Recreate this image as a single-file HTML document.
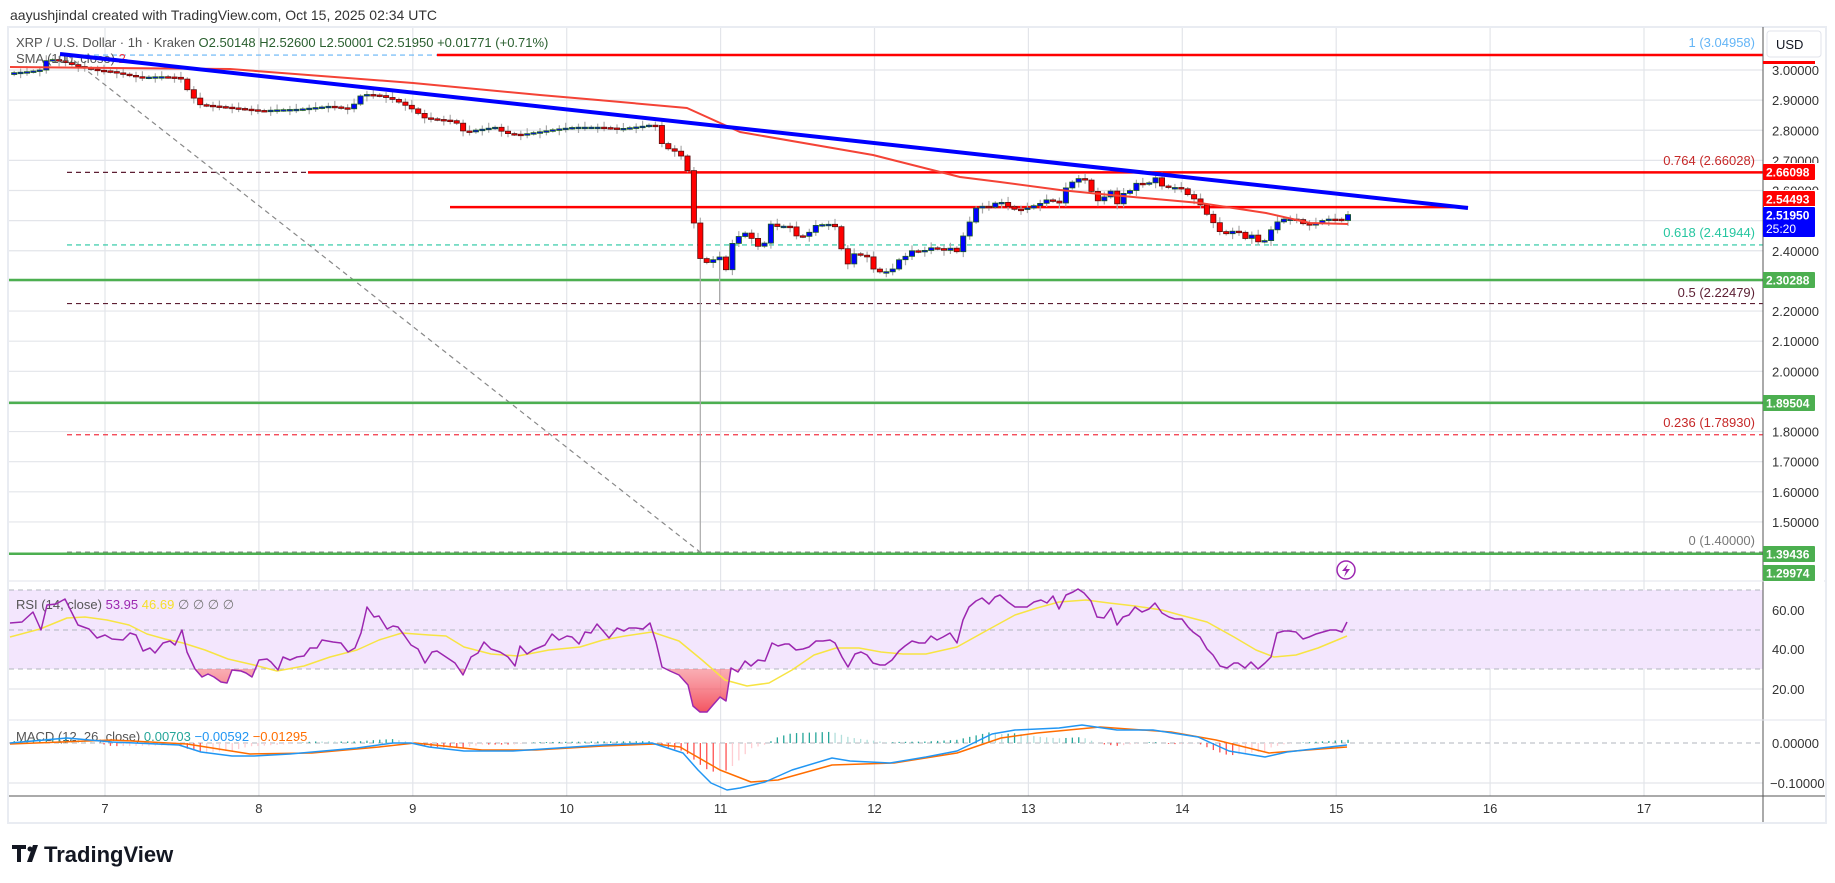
<!DOCTYPE html>
<html><head><meta charset="utf-8"><style>
html,body{margin:0;padding:0;background:#fff;}
svg{display:block;font-family:"Liberation Sans",sans-serif;}
</style></head><body>
<svg id="s" width="1835" height="883" viewBox="0 0 1835 883" xmlns="http://www.w3.org/2000/svg">
<defs>
<linearGradient id="os" x1="0" y1="0" x2="0" y2="1"><stop offset="0" stop-color="#ffffff" stop-opacity="0.2"/><stop offset="1" stop-color="#f23645" stop-opacity="0.85"/></linearGradient>
<clipPath id="below30"><rect x="0" y="669" width="1763" height="60"/></clipPath>
</defs>
<rect x="0" y="0" width="1835" height="883" fill="#fff"/>
<text x="10" y="20" font-size="14" fill="#333">aayushjindal created with TradingView.com, Oct 15, 2025 02:34 UTC</text>
<rect x="8" y="27" width="1818" height="796" fill="none" stroke="#e9ecf2" stroke-width="2"/>
<g id="grid"></g>
<rect x="9" y="590" width="1754" height="79" fill="#f3e6fd"/>
<g id="g2"></g>
<g id="lines"></g>
<g id="cand"></g>
<line x1="1763" y1="27" x2="1763" y2="822" stroke="#555" stroke-width="1"/>
<line x1="9" y1="796" x2="1825" y2="796" stroke="#555" stroke-width="1"/>
<line x1="9" y1="581" x2="1825" y2="581" stroke="#e0e3eb" stroke-width="1"/>
<line x1="9" y1="720" x2="1825" y2="720" stroke="#e0e3eb" stroke-width="1"/>
<g id="axis" font-size="13" fill="#333"></g>
<text x="16" y="47" font-size="13" fill="#555">XRP / U.S. Dollar · 1h · Kraken <tspan fill="#2a5f2f">O2.50148 H2.52600 L2.50001 C2.51950 +0.01771 (+0.71%)</tspan></text>
<text x="16" y="63" font-size="13" fill="#555">SMA (100, close) <tspan fill="#f23645">2</tspan></text>
<text x="16" y="609" font-size="13" fill="#555">RSI (14, close) <tspan fill="#9c27b0">53.95</tspan> <tspan fill="#f5e02a">46.69</tspan> <tspan fill="#777">∅ ∅ ∅ ∅</tspan></text>
<text x="16" y="741" font-size="13" fill="#555">MACD (12, 26, close) <tspan fill="#26a69a">0.00703</tspan> <tspan fill="#2196f3">−0.00592</tspan> <tspan fill="#ff6d00">−0.01295</tspan></text>
<g font-size="13" text-anchor="end">
<text x="1755" y="47" fill="#64b5f6">1 (3.04958)</text>
<text x="1755" y="165" fill="#c62828">0.764 (2.66028)</text>
<text x="1755" y="237" fill="#26c6a0">0.618 (2.41944)</text>
<text x="1755" y="297" fill="#5d1f33">0.5 (2.22479)</text>
<text x="1755" y="427" fill="#c62828">0.236 (1.78930)</text>
<text x="1755" y="545" fill="#777">0 (1.40000)</text>
</g>
<rect x="1767" y="31" width="54" height="26" rx="3" fill="#fff" stroke="#e0e3eb"/>
<text x="1776" y="49" font-size="13" fill="#131722">USD</text>
<rect x="1763" y="61" width="52" height="3" fill="#ff0000"/>
<g id="badges" font-size="12" font-weight="bold" fill="#fff"></g>
<circle cx="1346" cy="570" r="9" fill="#fff" stroke="#9c27b0" stroke-width="1.5"/>
<path d="M1348 564 L1342 571 L1346 571 L1344 577 L1350 569 L1346 569 Z" fill="#9c27b0"/>
<g font-size="13" fill="#333" text-anchor="middle" id="tl"></g>
<g>
<path d="M12 845 h14 v4 h-5 v13 h-4 v-13 h-5 z" fill="#131722"/>
<circle cx="30" cy="849" r="2.5" fill="#131722"/>
<path d="M33 845 h5 l-6 17 h-5 z" fill="#131722"/>
<text x="44" y="862" font-size="22" font-weight="bold" fill="#131722">TradingView</text>
</g>
</svg>
<script>
var NS="http://www.w3.org/2000/svg";
function el(p,t,a){var e=document.createElementNS(NS,t);for(var k in a)e.setAttribute(k,a[k]);p.appendChild(e);return e;}
function $(i){return document.getElementById(i);}
function py(p){return 70+(3-p)*301.3;}
var grid=$("grid"),g2=$("g2"),L=$("lines"),C=$("cand"),AX=$("axis"),B=$("badges"),TL=$("tl");
for(var d=7;d<=17;d++){var x=105+(d-7)*153.9;el(grid,"line",{x1:x,y1:28,x2:x,y2:796,stroke:"#e3e5ea","stroke-width":1.2});
 var t=el(TL,"text",{x:x,y:813});t.textContent=d;}
for(var i=0;i<=15;i++){var p=3-i*0.1;var y=py(p);el(grid,"line",{x1:9,y1:y,x2:1763,y2:y,stroke:"#e3e5ea","stroke-width":1.2});
 var tx=el(AX,"text",{x:1772,y:y+5});tx.textContent=p.toFixed(5);}
[[60,610],[40,649],[20,689]].forEach(function(a){el(grid,"line",{x1:9,y1:a[1],x2:1763,y2:a[1],stroke:"#e3e5ea","stroke-width":1.2});var t=el(AX,"text",{x:1772,y:a[1]+5});t.textContent=a[0].toFixed(2);});
el(grid,"line",{x1:9,y1:783,x2:1763,y2:783,stroke:"#e3e5ea","stroke-width":1.2});
var t1=el(AX,"text",{x:1772,y:748});t1.textContent="0.00000";var t2=el(AX,"text",{x:1770,y:788});t2.textContent="−0.10000";
[590,630,669].forEach(function(y){el(g2,"line",{x1:9,y1:y,x2:1763,y2:y,stroke:"#b2b5be","stroke-dasharray":"5,4"});});
el(g2,"line",{x1:9,y1:743,x2:1763,y2:743,stroke:"#b2b5be","stroke-dasharray":"5,4"});
function hl(x1,x2,p,c,w,dash){var a={x1:x1,y1:py(p),x2:x2,y2:py(p),stroke:c,"stroke-width":w};if(dash)a["stroke-dasharray"]=dash;el(L,"line",a);}
hl(67,437,3.04958,"#64b5f6",1.2,"5,4");
hl(67,1763,2.66028,"#5d1f33",1.2,"5,4");
hl(67,1763,2.41944,"#26c6a0",1.2,"5,4");
hl(67,1763,2.22479,"#5d1f33",1.2,"5,4");
hl(67,1763,1.7893,"#f23645",1.2,"5,4");
hl(67,1763,1.40,"#888",1.2,"5,4");
el(L,"line",{x1:67,y1:55,x2:700,y2:552,stroke:"#888","stroke-width":1.2,"stroke-dasharray":"5,4"});
hl(437,1763,3.04958,"#ff0000",2.5);
hl(308,1763,2.66028,"#ff0000",2.5);
hl(450,1468,2.54493,"#ff0000",2.5);
hl(9,1763,2.30288,"#4caf50",2.5);
hl(9,1763,1.89504,"#4caf50",2.5);
hl(9,1763,1.39436,"#4caf50",2.5);
var K=[[10,2.99],[30,2.995],[40,3.0],[45,3.03],[52,3.035],[60,3.03],[70,3.02],[80,3.01],[95,3.0],[110,2.995],[125,2.985],[140,2.975],[160,2.978],[180,2.975],[190,2.92],[200,2.885],[215,2.88],[230,2.875],[260,2.865],[280,2.868],[300,2.87],[330,2.88],[350,2.87],[362,2.92],[380,2.915],[395,2.9],[410,2.875],[425,2.84],[440,2.835],[455,2.83],[465,2.79],[475,2.80],[495,2.81],[505,2.79],[520,2.785],[540,2.795],[560,2.805],[575,2.81],[600,2.81],[620,2.805],[640,2.812],[655,2.82],[663,2.745],[675,2.73],[681,2.715],[687,2.68],[694,2.49],[700,2.375],[706,2.36],[713,2.37],[720,2.38],[727,2.33],[733,2.435],[740,2.45],[746,2.46],[752,2.44],[758,2.415],[764,2.42],[770,2.49],[776,2.48],[782,2.482],[790,2.48],[795,2.45],[803,2.448],[809,2.46],[816,2.485],[822,2.487],[829,2.488],[835,2.48],[841,2.41],[848,2.355],[854,2.39],[861,2.385],[867,2.38],[873,2.34],[880,2.33],[886,2.33],[893,2.34],[899,2.37],[905,2.38],[912,2.40],[918,2.398],[924,2.40],[931,2.41],[937,2.408],[943,2.40],[950,2.41],[956,2.39],[962,2.44],[969,2.49],[975,2.54],[981,2.55],[987,2.54],[993,2.555],[1000,2.565],[1006,2.55],[1012,2.54],[1018,2.535],[1025,2.54],[1031,2.545],[1037,2.555],[1044,2.56],[1050,2.58],[1056,2.55],[1060,2.56],[1066,2.61],[1073,2.63],[1079,2.64],[1085,2.635],[1091,2.60],[1097,2.565],[1103,2.57],[1109,2.61],[1117,2.555],[1123,2.59],[1129,2.595],[1135,2.625],[1141,2.62],[1149,2.625],[1155,2.645],[1162,2.615],[1168,2.61],[1174,2.61],[1180,2.61],[1186,2.59],[1193,2.575],[1199,2.56],[1206,2.525],[1212,2.50],[1219,2.465],[1225,2.455],[1232,2.465],[1238,2.465],[1245,2.44],[1251,2.455],[1258,2.43],[1264,2.43],[1270,2.465],[1277,2.495],[1283,2.505],[1290,2.505],[1296,2.505],[1303,2.49],[1309,2.485],[1315,2.49],[1322,2.5],[1328,2.505],[1335,2.505],[1342,2.5],[1348,2.52]];
function interp(A,x){if(x<=A[0][0])return A[0][1];for(var i=1;i<A.length;i++){if(x<=A[i][0]){var a=A[i-1],b=A[i];return a[1]+(b[1]-a[1])*(x-a[0])/(b[0]-a[0]);}}return A[A.length-1][1];}
var step=153.9/24,prev=2.985,n=0;
for(var x=1348;x>=10;x-=step)n++;
var xs=[];for(var k=n-1;k>=0;k--)xs.push(1348-k*step);
var wk="";
xs.forEach(function(x,i){var c=interp(K,x),o=prev;prev=c;var hi=Math.max(o,c)+0.006+0.006*((i*7)%3),lo=Math.min(o,c)-0.006-0.006*((i*5)%3);
 if(Math.abs(x-700)<3.3)lo=1.40;if(Math.abs(x-719)<3.3)lo=2.22;
 wk+="M"+x.toFixed(1)+" "+py(hi).toFixed(1)+"V"+py(lo).toFixed(1);
 var up=c>=o,y1=py(Math.max(o,c)),y2=py(Math.min(o,c));if(y2-y1<1.5){y2=y1+1.5;}
 el(C,"rect",{x:(x-2.6).toFixed(1),y:y1.toFixed(1),width:5.2,height:(y2-y1).toFixed(1),fill:up?"#0000ff":"#ff0000",stroke:up?"#1b5e20":"#5d1010","stroke-width":0.8});
});
var w=el(C,"path",{d:wk,stroke:"#aaa","stroke-width":1.2,fill:"none"});C.insertBefore(w,C.firstChild);
function poly(par,pts,c,wd){el(par,"polyline",{points:pts.map(function(p){return p[0]+","+p[1]}).join(" "),fill:"none",stroke:c,"stroke-width":wd,"stroke-linejoin":"round"});}
poly($("s"),[[10,67],[230,69],[413,83],[540,95],[598,100],[687,108],[740,132],[873,155],[960,177],[1000,182],[1060,190],[1100,194],[1200,203],[1266,213],[1310,223],[1348,224]],"#f44336",2);
el($("s"),"line",{x1:60,y1:54,x2:1468,y2:208,stroke:"#0000ff","stroke-width":4});
var R=[[10,623],[22,622],[33,612],[41,630],[47,605],[56,604],[65,599],[78,625],[89,629],[97,638],[105,635],[112,639],[123,640],[130,633],[136,635],[143,651],[150,648],[155,653],[163,643],[170,641],[175,645],[182,630],[187,652],[195,669],[202,677],[208,674],[214,677],[221,682],[227,683],[232,670],[241,671],[246,673],[252,677],[259,660],[267,659],[271,662],[278,670],[283,657],[290,660],[297,657],[304,656],[310,648],[317,648],[322,640],[333,642],[341,643],[348,652],[355,648],[361,633],[367,607],[374,617],[379,616],[387,629],[393,626],[398,627],[404,635],[411,645],[418,649],[425,663],[432,652],[437,651],[446,657],[455,663],[463,675],[471,657],[478,653],[484,642],[491,649],[500,652],[508,657],[515,666],[520,646],[527,654],[533,650],[545,645],[552,634],[559,640],[567,636],[572,637],[579,644],[585,632],[591,633],[597,624],[604,632],[609,638],[617,628],[624,631],[629,628],[636,628],[643,629],[650,623],[656,642],[662,667],[670,671],[679,675],[688,685],[693,706],[700,712],[707,712],[713,705],[720,697],[726,701],[731,668],[738,672],[745,661],[751,666],[758,660],[765,661],[772,643],[778,646],[785,644],[789,644],[796,650],[803,649],[809,647],[816,641],[823,641],[830,640],[835,643],[842,657],[848,667],[855,654],[861,652],[867,655],[873,663],[880,665],[885,665],[892,660],[899,651],[905,646],[912,641],[919,643],[925,643],[931,636],[937,640],[943,637],[950,633],[957,643],[963,620],[969,607],[976,601],[982,598],[989,604],[995,597],[1000,595],[1008,602],[1015,607],[1021,607],[1027,607],[1034,602],[1041,600],[1047,603],[1053,596],[1059,609],[1066,595],[1073,592],[1078,589],[1084,593],[1091,601],[1097,617],[1104,618],[1111,608],[1117,625],[1123,617],[1129,615],[1135,607],[1142,612],[1149,609],[1155,603],[1162,613],[1169,617],[1175,619],[1182,619],[1188,627],[1193,632],[1200,637],[1207,649],[1213,655],[1220,666],[1227,668],[1234,663],[1238,663],[1245,668],[1251,662],[1258,669],[1265,663],[1271,657],[1277,633],[1284,631],[1289,631],[1296,632],[1303,639],[1309,637],[1316,634],[1323,632],[1330,630],[1336,630],[1342,632],[1347,622]];
var fillPts=R.map(function(p){return p[0]+","+p[1]}).join(" ")+" 1347,669 10,669";
el($("s"),"polygon",{points:fillPts,fill:"url(#os)","clip-path":"url(#below30)"});
var Y=[[10,637],[40,629],[67,618],[85,617],[107,620],[129,625],[147,634],[165,639],[183,643],[205,650],[228,659],[254,665],[277,671],[304,666],[330,657],[357,650],[379,640],[402,633],[429,635],[446,636],[464,647],[491,654],[518,656],[549,650],[580,647],[603,640],[625,636],[652,632],[679,641],[702,660],[725,680],[747,686],[769,683],[792,670],[814,655],[836,648],[859,648],[881,652],[903,654],[926,654],[957,647],[984,632],[1015,615],[1037,608],[1059,602],[1086,600],[1109,603],[1135,606],[1162,610],[1180,615],[1207,622],[1234,637],[1256,650],[1274,657],[1296,655],[1318,648],[1347,636]];
poly($("s"),Y,"#f7e443",1.5);
poly($("s"),R,"#9c27b0",1.5);
var M=[[10,743],[67,738],[112,742],[179,745],[201,752],[232,756],[254,756],[290,754],[335,750],[357,748],[393,743],[411,743],[429,747],[464,751],[513,751],[558,748],[603,745],[652,743],[683,753],[698,770],[711,783],[727,790],[740,788],[765,782],[792,770],[832,758],[850,761],[890,763],[926,757],[957,751],[992,734],[1015,730],[1059,728],[1082,725],[1117,730],[1153,730],[1198,737],[1229,751],[1265,757],[1287,752],[1347,745]];
var S=[[10,744],[112,740],[187,744],[250,754],[312,753],[379,747],[415,743],[482,750],[536,750],[603,746],[656,744],[680,747],[720,770],[751,782],[778,780],[832,765],[894,763],[957,753],[1001,738],[1037,733],[1100,727],[1171,732],[1216,740],[1269,753],[1347,747]];
var ph=0;xs.forEach(function(x){var h=(interp(S,x)-interp(M,x))*1.6;var inc=Math.abs(h)>=Math.abs(ph);
 var col=h>=0?(inc?"#26a69a":"#b2dfdb"):(inc?"#ff5252":"#ffcdd2");ph=h;
 if(Math.abs(h)>0.3)el($("s"),"rect",{x:(x-0.6).toFixed(1),y:h>0?743-h:743,width:1.3,height:Math.abs(h),fill:col});});
poly($("s"),S,"#ff6d00",1.5);
poly($("s"),M,"#2196f3",1.5);
function badge(y,c,txt,h){h=h||16;el(B,"rect",{x:1764,y:y-1,width:60,height:h+2,fill:"#fff"});el(B,"rect",{x:1763,y:y,width:52,height:h,fill:c,rx:1});var t=el(B,"text",{x:1766,y:y+12.5});t.textContent=txt;return t;}
badge(164,"#ff0000","2.66098");
badge(191,"#ff0000","2.54493");
badge(207,"#0000ff","2.51950",30);var tt=el(B,"text",{x:1766,y:233,"font-weight":"normal"});tt.textContent="25:20";
badge(272,"#4caf50","2.30288");
badge(395,"#4caf50","1.89504");
badge(546,"#4caf50","1.39436");
badge(565,"#4caf50","1.29974");
</script>
</body></html>
